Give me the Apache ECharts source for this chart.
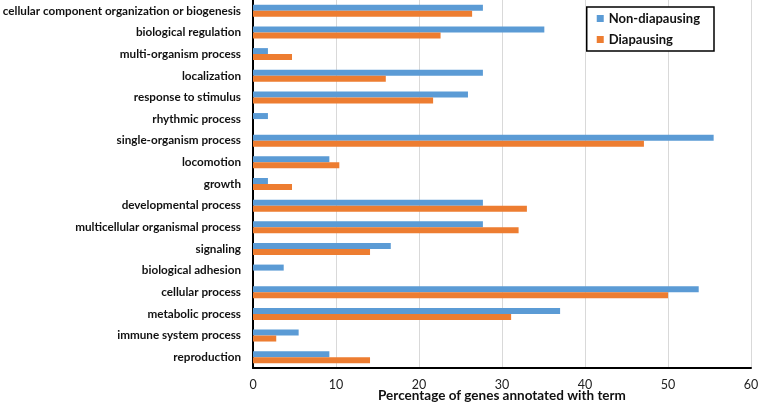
<!DOCTYPE html>
<html><head><meta charset="utf-8">
<script src="https://cdn.jsdelivr.net/npm/echarts@6/dist/echarts.min.js"></script>
<style>html,body{margin:0;padding:0;background:#fff}#c{width:758px;height:402px}</style>
</head><body><div id="c"></div>
<script>
const categories = ["cellular component organization or biogenesis","biological regulation","multi-organism process","localization","response to stimulus","rhythmic process","single-organism process","locomotion","growth","developmental process","multicellular organismal process","signaling","biological adhesion","cellular process","metabolic process","immune system process","reproduction"];
const nonDiapausing = [27.7,35.1,1.8,27.7,25.9,1.8,55.5,9.2,1.8,27.7,27.7,16.6,3.7,53.7,37.0,5.5,9.2];
const diapausing = [26.4,22.6,4.7,16.0,21.7,0,47.1,10.4,4.7,33.0,32.0,14.1,0,50.0,31.1,2.8,14.1];
const xTicks = {min:0, max:60, interval:10};
const xTitle = "Percentage of genes annotated with term";
const FONT = "Lato";
const chart = echarts.init(document.getElementById('c'));
chart.setOption({
  animation:false,
  textStyle:{fontFamily:FONT},
  grid:{left:253,right:7,top:0,bottom:34,containLabel:false,outerBoundsMode:'none'},
  legend:{
    right:44, top:7, orient:'vertical', itemWidth:7, itemHeight:7, itemGap:8,
    padding:[5,14,5,10], borderColor:'#000', borderWidth:1.5, backgroundColor:'#fff',
    icon:'rect',
    textStyle:{fontFamily:FONT,fontWeight:'bold',fontSize:13,color:'#111'}
  },
  xAxis:{
    type:'value', min:xTicks.min, max:xTicks.max, interval:xTicks.interval,
    name:xTitle, nameLocation:'middle', nameGap:21, nameMoveOverlap:false,
    nameTextStyle:{fontFamily:FONT,fontWeight:'bold',fontSize:13.5,color:'#111',verticalAlign:'top'},
    axisLine:{show:true,lineStyle:{color:'#000',width:2}},
    axisTick:{show:false},
    axisLabel:{fontFamily:FONT,fontSize:12.5,color:'#222',margin:10},
    splitLine:{show:true,lineStyle:{color:'#d9d9d9',width:1}}
  },
  yAxis:{
    type:'category', data:categories, inverse:true,
    axisLine:{show:true,lineStyle:{color:'#000',width:2}},
    axisTick:{show:false},
    axisLabel:{fontFamily:FONT,fontWeight:'bold',fontSize:11.7,color:'#111',margin:12}
  },
  series:[
    {name:'Non-diapausing',type:'bar',data:nonDiapausing,barWidth:6,barGap:'0%',itemStyle:{color:'#5B9BD5'}},
    {name:'Diapausing',type:'bar',data:diapausing,barWidth:6,barGap:'0%',itemStyle:{color:'#ED7D31'}}
  ]
});
</script></body></html>
